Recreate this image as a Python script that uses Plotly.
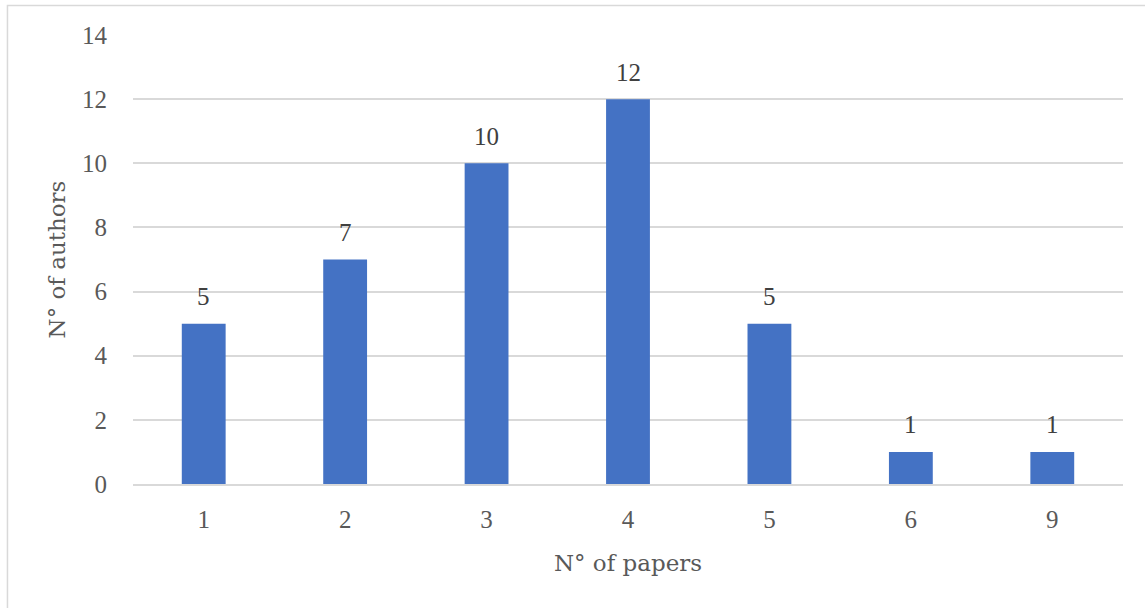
import plotly.graph_objects as go

# Number of papers per author vs. how many authors
papers = ["1", "2", "3", "4", "5", "6", "9"]
authors = [5, 7, 10, 12, 5, 1, 1]

y_ticks = [0, 2, 4, 6, 8, 10, 12, 14]

NUM_FONT = "Liberation Serif"
TITLE_FONT = "DejaVu Serif"
TEXT = "#595959"
GRID = "#d9d9d9"
BAR = "#4472C4"

fig = go.Figure()
fig.add_trace(go.Bar(
    x=papers,
    y=authors,
    marker=dict(color=BAR, line=dict(width=0)),
    hoverinfo="x+y",
))

# value labels above each bar (category axis positions are the indices)
for i, a in enumerate(authors):
    fig.add_annotation(
        x=i, y=a, text=str(a), showarrow=False,
        yanchor="middle", yshift=27,
        font=dict(family=NUM_FONT, size=25, color="#404040"),
    )

# light outer frame around the whole chart
fig.add_shape(
    type="rect", xref="paper", yref="paper",
    x0=-0.1268, x1=1.03, y0=-0.29, y1=1.0657,
    line=dict(color=GRID, width=1.5), fillcolor="rgba(0,0,0,0)",
    layer="below",
)

fig.update_layout(
    width=1145, height=608,
    margin=dict(l=133, r=22, t=35, b=124),
    paper_bgcolor="white",
    plot_bgcolor="white",
    bargap=0.69,
    showlegend=False,
    font=dict(family=NUM_FONT, size=25, color=TEXT),
    xaxis=dict(
        type="category",
        range=[-0.5, len(papers) - 0.5],
        showgrid=False,
        showline=True, linecolor=GRID, linewidth=1.5,
        ticks="outside", ticklen=12, tickcolor="rgba(0,0,0,0)",
        tickfont=dict(family=NUM_FONT, size=25, color=TEXT),
        title=dict(text="N° of papers", standoff=23,
                   font=dict(family=TITLE_FONT, size=23, color=TEXT)),
    ),
    yaxis=dict(
        range=[0, 14],
        tickvals=y_ticks,
        showgrid=True, gridcolor=GRID, gridwidth=1.5,
        zeroline=False,
        ticks="outside", ticklen=20, tickcolor="rgba(0,0,0,0)",
        tickfont=dict(family=NUM_FONT, size=25, color=TEXT),
        title=dict(text="N° of authors", standoff=9,
                   font=dict(family=TITLE_FONT, size=23, color=TEXT)),
    ),
)

fig.write_html("out.html")
